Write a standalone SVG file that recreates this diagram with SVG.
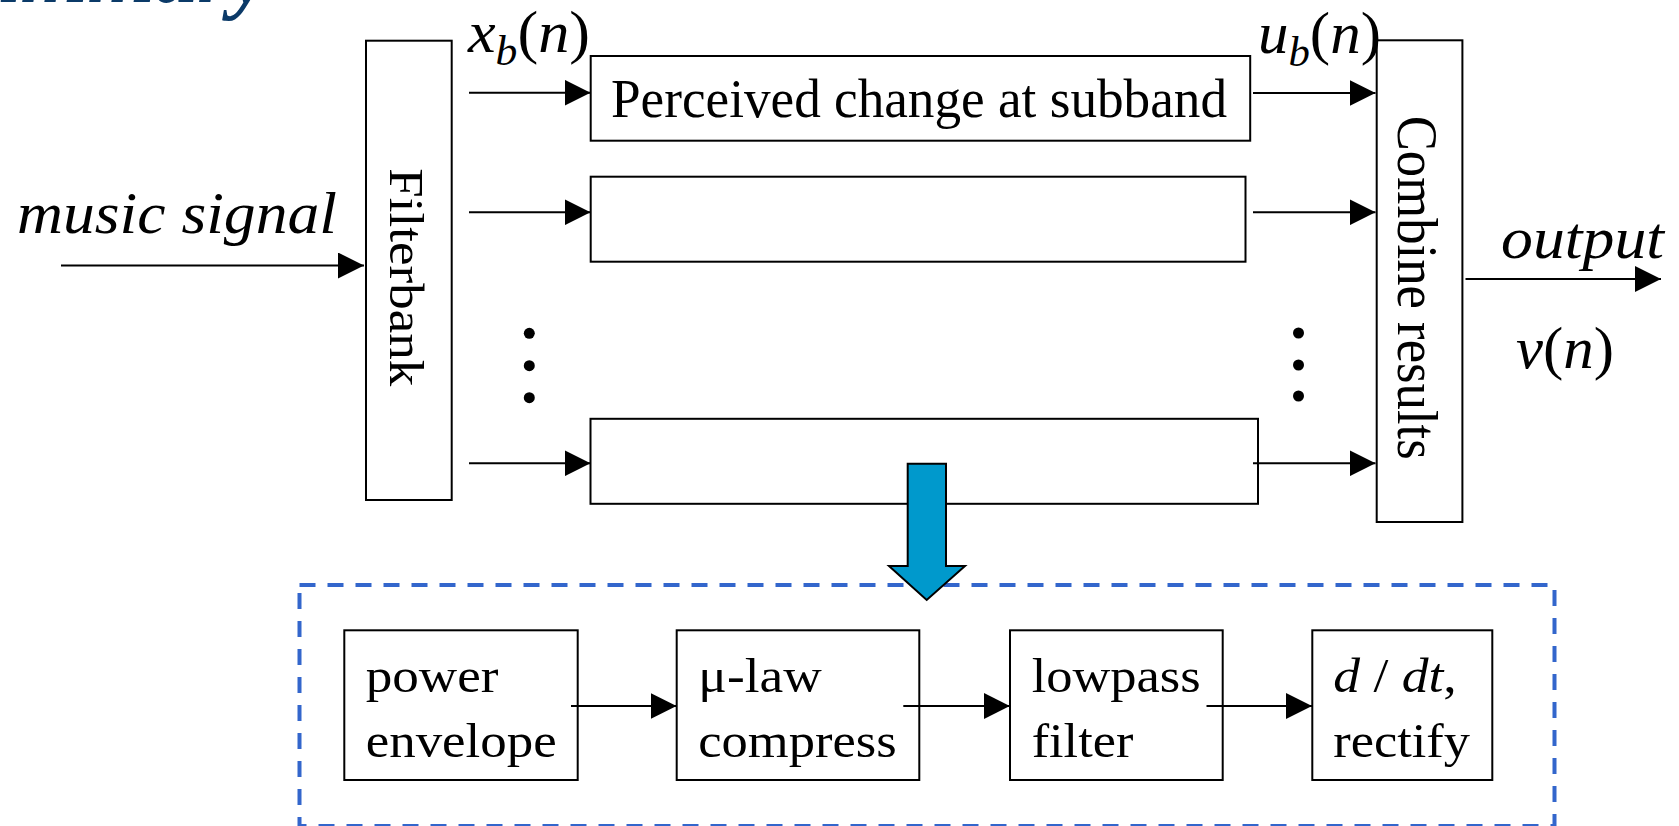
<svg xmlns="http://www.w3.org/2000/svg" width="1679" height="826" viewBox="0 0 1679 826">
  <defs>
    <marker id="arrowhead" markerUnits="userSpaceOnUse" markerWidth="26" markerHeight="26" refX="26" refY="13" orient="auto">
      <path d="M0,0 L26,13 L0,26 Z" fill="#000"/>
    </marker>
    <style>
      .box { fill: #fff; stroke: #000; stroke-width: 2; }
      .wire { stroke: #000; stroke-width: 2; fill: none; marker-end: url(#arrowhead); }
      .lbl { font-family: "Liberation Serif", "Times New Roman", serif; fill: #000; }
      .it { font-style: italic; }
      .dot { fill: #000; }
      .heading { font-family: "Liberation Serif", "Times New Roman", serif; font-weight: bold; font-style: italic; fill: #0B3A68; }
    </style>
  </defs>

  <rect width="1679" height="826" fill="#fff"/>

  <!-- slide heading, mostly above the top edge -->
  <text class="heading" x="269" y="2" font-size="86" text-anchor="end">Summary</text>

  <!-- detail frame for one subband -->
  <rect id="detail-frame" x="299.5" y="585" width="1255" height="241" fill="none" stroke="#3366CC" stroke-width="4" stroke-dasharray="16 12"/>

  <g id="filterbank">
    <rect class="box" x="366" y="40.7" width="85.7" height="459.3"/>
    <text class="lbl" font-size="49" transform="translate(390,168.3) rotate(90)" textLength="218" lengthAdjust="spacingAndGlyphs">Filterbank</text>
  </g>

  <g id="subband-1">
    <rect class="box" x="590.7" y="56" width="659.5" height="84.7"/>
    <text class="lbl" x="611" y="117.3" font-size="54" textLength="616" lengthAdjust="spacingAndGlyphs">Perceived change at subband</text>
  </g>
  <g id="subband-2">
    <rect class="box" x="590.7" y="176.7" width="654.8" height="85"/>
  </g>
  <g id="subband-b">
    <rect class="box" x="590.5" y="418.8" width="667.5" height="85"/>
  </g>

  <g id="combine">
    <rect class="box" x="1376.7" y="40.3" width="85.7" height="481.7"/>
    <text class="lbl" font-size="57" transform="translate(1398,115.7) rotate(90)" textLength="344" lengthAdjust="spacingAndGlyphs">Combine results</text>
  </g>

  <g id="ellipsis-left">
    <circle class="dot" cx="529.3" cy="333.3" r="5.5"/>
    <circle class="dot" cx="529.3" cy="365.7" r="5.5"/>
    <circle class="dot" cx="529.3" cy="397.7" r="5.5"/>
  </g>
  <g id="ellipsis-right">
    <circle class="dot" cx="1298.5" cy="333" r="5.5"/>
    <circle class="dot" cx="1298.5" cy="365" r="5.5"/>
    <circle class="dot" cx="1298.5" cy="396" r="5.5"/>
  </g>

  <!-- signal labels -->
  <g id="labels">
    <text class="lbl it" x="17" y="233" font-size="60" textLength="320" lengthAdjust="spacingAndGlyphs">music signal</text>
    <text class="lbl" x="468" y="52" font-size="60" textLength="122" lengthAdjust="spacingAndGlyphs"><tspan class="it">x</tspan><tspan class="it" font-size="42" dy="13">b</tspan><tspan dy="-13">(</tspan><tspan class="it">n</tspan>)</text>
    <text class="lbl" x="1258" y="52.6" font-size="60" textLength="123" lengthAdjust="spacingAndGlyphs"><tspan class="it">u</tspan><tspan class="it" font-size="42" dy="13">b</tspan><tspan dy="-13">(</tspan><tspan class="it">n</tspan>)</text>
    <text class="lbl it" x="1501" y="258" font-size="60" textLength="163" lengthAdjust="spacingAndGlyphs">output</text>
    <text class="lbl" x="1516" y="368" font-size="60" textLength="98" lengthAdjust="spacingAndGlyphs"><tspan class="it">v</tspan>(<tspan class="it">n</tspan>)</text>
  </g>

  <!-- processing chain inside the frame -->
  <g id="power-envelope">
    <rect class="box" x="344.3" y="630.3" width="233.4" height="149.7"/>
    <text class="lbl" x="365.7" y="691.7" font-size="48" textLength="132.7" lengthAdjust="spacingAndGlyphs">power</text>
    <text class="lbl" x="365.7" y="756.7" font-size="48" textLength="191" lengthAdjust="spacingAndGlyphs">envelope</text>
  </g>
  <g id="mu-law">
    <rect class="box" x="676.7" y="630.3" width="242.6" height="149.7"/>
    <text class="lbl" x="698.3" y="691.7" font-size="48" textLength="123.4" lengthAdjust="spacingAndGlyphs">μ-law</text>
    <text class="lbl" x="698.3" y="756.7" font-size="48" textLength="198.3" lengthAdjust="spacingAndGlyphs">compress</text>
  </g>
  <g id="lowpass">
    <rect class="box" x="1010" y="630.3" width="212.7" height="149.7"/>
    <text class="lbl" x="1031.7" y="691.7" font-size="48" textLength="169" lengthAdjust="spacingAndGlyphs">lowpass</text>
    <text class="lbl" x="1031.7" y="756.7" font-size="48" textLength="101.6" lengthAdjust="spacingAndGlyphs">filter</text>
  </g>
  <g id="derivative">
    <rect class="box" x="1312.3" y="630.3" width="180" height="149.7"/>
    <text class="lbl" x="1333.3" y="691.7" font-size="48" textLength="123.4" lengthAdjust="spacingAndGlyphs"><tspan class="it">d</tspan> / <tspan class="it">dt</tspan>,</text>
    <text class="lbl" x="1333.3" y="756.7" font-size="48" textLength="136.7" lengthAdjust="spacingAndGlyphs">rectify</text>
  </g>

  <g id="connectors">
    <line class="wire" x1="61" y1="265.5" x2="364" y2="265.5"/>
    <line class="wire" x1="469" y1="92.7" x2="590.5" y2="92.7"/>
    <line class="wire" x1="469" y1="212.3" x2="590.5" y2="212.3"/>
    <line class="wire" x1="469" y1="463.3" x2="590.5" y2="463.3"/>
    <line class="wire" x1="1253" y1="93" x2="1375.5" y2="93"/>
    <line class="wire" x1="1253" y1="212.3" x2="1375.5" y2="212.3"/>
    <line class="wire" x1="1253" y1="463.3" x2="1375.5" y2="463.3"/>
    <line class="wire" x1="1465.5" y1="279" x2="1661" y2="279"/>
    <line class="wire" x1="571" y1="706" x2="676.5" y2="706"/>
    <line class="wire" x1="903.3" y1="706" x2="1009.8" y2="706"/>
    <line class="wire" x1="1206.5" y1="706" x2="1312" y2="706"/>
  </g>

  <!-- expansion arrow into the detail frame -->
  <polygon id="expand-arrow" points="907.7,463.7 946,463.7 946,566 965,566 926.7,600 889,566 907.7,566" fill="#0099CC" stroke="#000" stroke-width="2" stroke-linejoin="miter"/>
</svg>
